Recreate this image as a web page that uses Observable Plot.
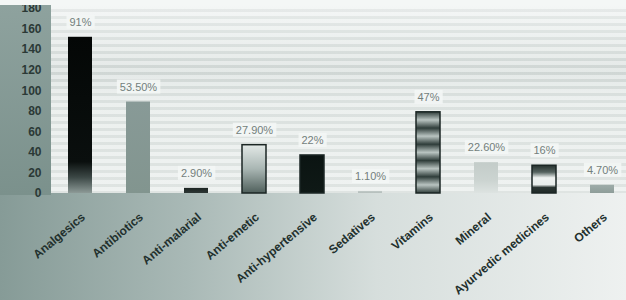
<!DOCTYPE html>
<html>
<head>
<meta charset="utf-8">
<script src="https://cdn.jsdelivr.net/npm/d3@7"></script>
<script src="https://cdn.jsdelivr.net/npm/@observablehq/plot@0.6"></script>
<style>
  html, body { margin: 0; padding: 0; background: #ffffff; }
  #chart {
    width: 626px; height: 300px; position: relative; overflow: hidden;
    background:
      linear-gradient(to bottom, #8ea29e, #7b918c) 0 5px / 51px 190px no-repeat,
      repeating-linear-gradient(to bottom, rgba(255,255,255,0.35) 0 4px, rgba(0,0,0,0.03) 4px 7px) 51px 5px / 575px 188px no-repeat,
      linear-gradient(to bottom, #eef2f1 0%, #dfe5e3 25%, #d6dddb 35%, #e2e8e6 50%, #e6ebe9 100%) 51px 5px / 575px 188px no-repeat,
      linear-gradient(to right, #869b97 0%, #a9b9b6 30%, #d6dedc 60%, #eef1f0 100%) 0 193px / 626px 107px no-repeat,
      #f6f8f7;
  }
  #topband { position: absolute; left: 0; top: 0; width: 626px; height: 5px; background: #f4f7f6; }
  #chart svg { font-family: "Liberation Sans", Arial, sans-serif; }
  #chart svg g[aria-label^="y-axis"] text { font-weight: bold; fill: #2b3936; font-size: 12px; }
</style>
</head>
<body>
<div id="chart"></div>
<script>
const categories = ["Analgesics", "Antibiotics", "Anti-malarial", "Anti-emetic", "Anti-hypertensive",
  "Sedatives", "Vitamins", "Mineral", "Ayurvedic medicines", "Others"];
const counts = [152, 89, 5, 47, 37, 2, 79, 30, 27, 8];
const percentLabels = ["91%", "53.50%", "2.90%", "27.90%", "22%", "1.10%", "47%", "22.60%", "16%", "4.70%"];
const yTicks = [0, 20, 40, 60, 80, 100, 120, 140, 160, 180];

const data = categories.map((c, i) => ({category: c, count: counts[i], label: percentLabels[i]}));

// one gradient id per category (styles kept outside the data arrays)
const fillFor = (d) => `url(#bar${categories.indexOf(d.category)})`;

function gradientDefs() {
  const defs = d3.create("svg:defs");
  const lin = (id, stops, horizontal) => {
    const g = defs.append("linearGradient").attr("id", id)
      .attr("x1", 0).attr("y1", 0).attr("x2", horizontal ? 1 : 0).attr("y2", horizontal ? 0 : 1);
    stops.forEach(([o, c]) => g.append("stop").attr("offset", o).attr("stop-color", c));
  };
  lin("bar0", [[0, "#040706"], [0.8, "#0a0f0e"], [0.9, "#3c4846"], [1, "#8d9a97"]]);
  lin("bar1", [[0, "#889a97"], [1, "#82958f"]]);
  lin("bar2", [[0, "#1c2422"], [1, "#2d3735"]]);
  lin("bar3", [[0, "#e3e9e7"], [0.5, "#a9b6b3"], [1, "#4f5f5b"]]);
  lin("bar4", [[0, "#0b1412"], [1, "#0f1916"]]);
  lin("bar5", [[0, "#c2cac8"], [1, "#b4bebb"]]);
  const v = [];
  for (let k = 0; k < 5; k++) {
    v.push([k / 5, "#2f3d3a"], [k / 5 + 0.1, "#b9c4c1"], [(k + 1) / 5, "#2f3d3a"]);
  }
  lin("bar6", v);
  lin("bar7", [[0, "#c3ccc9"], [0.6, "#ccd4d1"], [1, "#dde3e1"]]);
  lin("bar8", [[0, "#26312e"], [0.25, "#55635f"], [0.45, "#eef2f0"], [0.7, "#e8edeb"], [0.8, "#2a3532"], [1, "#1f2927"]]);
  lin("bar9", [[0, "#9eaca9"], [1, "#8e9d99"]]);
  return defs.node();
}

const plot = Plot.plot({
  width: 626,
  height: 300,
  marginLeft: 51,
  marginTop: 0,
  marginRight: 0,
  marginBottom: 0,
  style: {background: "transparent", fontSize: "11px", fontFamily: "Liberation Sans, Arial, sans-serif"},
  x: {type: "band", domain: categories, range: [51, 632], paddingInner: 0.58, paddingOuter: 0.29, axis: null},
  y: {domain: [0, 180], range: [193, 8], ticks: yTicks, tickSize: 0, tickPadding: 10, label: null, tickFormat: d => String(d)},
  color: {type: "identity"},
  marks: [
    gradientDefs,
    Plot.barY(data, {x: "category", y: "count", fill: fillFor, stroke: (d) => {
      const i = categories.indexOf(d.category);
      return [3, 4, 6, 8].includes(i) ? "#1b2624" : "none";
    }, strokeWidth: 1.5}),
    Plot.text(data, {x: "category", y: "count", text: "label", dy: -15, fill: "#737f7c",
      fontSize: 11, className: "pct-label"}),
    Plot.text(categories, {x: d => d, y: () => 0, text: d => d, rotate: -40, textAnchor: "end",
      dy: 22, dx: 3, fill: "#22302d", fontWeight: "bold", fontSize: 12})
  ]
});

document.getElementById("chart").appendChild(plot);
const band = document.createElement("div");
band.id = "topband";
document.getElementById("chart").appendChild(band);

// white boxes behind the percentage labels
const svg = d3.select(plot);
svg.selectAll(".pct-label text").each(function() {
  const bb = this.getBBox();
  const parent = this.parentNode;
  const r = document.createElementNS("http://www.w3.org/2000/svg", "rect");
  r.setAttribute("x", bb.x - 3);
  r.setAttribute("y", bb.y - 1);
  r.setAttribute("width", bb.width + 6);
  r.setAttribute("height", bb.height + 2);
  r.setAttribute("fill", "#f3f6f5");
  r.setAttribute("fill-opacity", 0.9);
  const t = this.getAttribute("transform");
  if (t) r.setAttribute("transform", t);
  parent.insertBefore(r, this);
});
</script>
</body>
</html>
